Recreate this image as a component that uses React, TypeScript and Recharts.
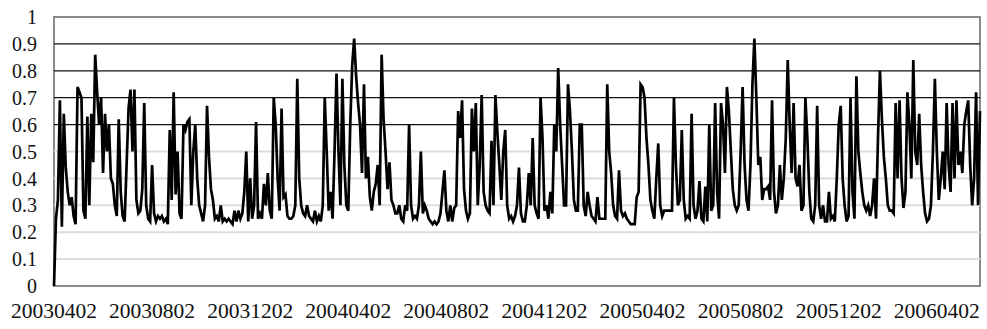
import React from 'react';
import { LineChart, Line, XAxis, YAxis, ReferenceLine, ReferenceArea } from 'recharts';

// x-axis labels, one every 50 observations
const tickLabels = [
  '20030402', '20030802', '20031202', '20040402', '20040802',
  '20041202', '20050402', '20050802', '20051202', '20060402',
];
const TICK_STEP = 50;

// values, split by stretch of the x-axis
const part1 = [
  0, 0.25, 0.32, 0.69, 0.22, 0.64, 0.44, 0.35, 0.3, 0.33,
  0.26, 0.23, 0.74, 0.72, 0.7, 0.28, 0.25, 0.63, 0.3, 0.64,
  0.46, 0.86, 0.72, 0.6, 0.7, 0.42, 0.64, 0.5, 0.6, 0.4,
  0.38, 0.3, 0.26, 0.62, 0.35, 0.26, 0.24, 0.45, 0.66, 0.73,
  0.5, 0.73, 0.32, 0.27, 0.28, 0.36, 0.68, 0.3, 0.25, 0.24,
  0.45, 0.27, 0.24, 0.26, 0.25, 0.26, 0.24, 0.25, 0.23, 0.58,
  0.32, 0.72, 0.34, 0.5, 0.27, 0.25, 0.6, 0.58, 0.61, 0.62,
  0.3, 0.5, 0.6, 0.4, 0.3, 0.27, 0.24, 0.3, 0.67, 0.48,
  0.36, 0.32, 0.25, 0.26, 0.24, 0.3, 0.24, 0.25, 0.24, 0.25,
  0.24, 0.23, 0.28, 0.24, 0.28,
];
const part2 = [
  0.25, 0.27, 0.35, 0.5, 0.24, 0.4, 0.25, 0.3, 0.61, 0.25,
  0.27, 0.25, 0.38, 0.3, 0.42, 0.28, 0.25, 0.7, 0.6, 0.4,
  0.28, 0.66, 0.33, 0.34, 0.26, 0.25, 0.25, 0.26, 0.3, 0.77,
  0.4, 0.3, 0.27, 0.26, 0.3, 0.26, 0.25, 0.24, 0.28, 0.24,
  0.26, 0.24, 0.3, 0.7, 0.5, 0.28, 0.35, 0.25, 0.5, 0.79,
  0.5, 0.3, 0.77, 0.45, 0.3, 0.28, 0.6, 0.82, 0.92, 0.78,
  0.68, 0.6, 0.42, 0.75, 0.4, 0.48, 0.33, 0.28, 0.35, 0.38,
  0.45, 0.3, 0.86, 0.62, 0.5, 0.36, 0.46, 0.32, 0.3, 0.27,
  0.27, 0.3, 0.25, 0.24, 0.3, 0.28, 0.6, 0.3, 0.25, 0.26,
  0.25, 0.3, 0.5, 0.27, 0.3,
];
const part3 = [
  0.28, 0.25, 0.24, 0.23, 0.24, 0.23, 0.24, 0.27, 0.35, 0.43,
  0.28, 0.24, 0.3, 0.24, 0.29, 0.3, 0.65, 0.55, 0.69, 0.36,
  0.28, 0.25, 0.27, 0.66, 0.5, 0.68, 0.3, 0.45, 0.71, 0.35,
  0.3, 0.28, 0.27, 0.54, 0.3, 0.71, 0.57, 0.45, 0.32, 0.5,
  0.58, 0.3, 0.25, 0.26, 0.24, 0.26, 0.3, 0.44, 0.27, 0.24,
  0.24, 0.3, 0.42, 0.3, 0.55, 0.3, 0.27, 0.25, 0.7, 0.55,
  0.28, 0.3, 0.25, 0.35, 0.27, 0.6, 0.5, 0.81, 0.6, 0.45,
  0.3, 0.3, 0.75, 0.65, 0.5, 0.32, 0.28, 0.28, 0.6, 0.6,
  0.3, 0.26, 0.35, 0.3, 0.26, 0.25, 0.24, 0.33, 0.25, 0.25,
  0.25, 0.25, 0.75, 0.5, 0.42,
];
const part4 = [
  0.3, 0.26, 0.25, 0.43, 0.28, 0.26, 0.27, 0.25, 0.24, 0.23,
  0.23, 0.23, 0.33, 0.35, 0.75, 0.74, 0.7, 0.55, 0.45, 0.32,
  0.28, 0.25, 0.4, 0.53, 0.3, 0.26, 0.28, 0.28, 0.28, 0.28,
  0.28, 0.7, 0.45, 0.3, 0.32, 0.58, 0.32, 0.25, 0.26, 0.25,
  0.64, 0.3, 0.25, 0.28, 0.39, 0.25, 0.24, 0.37, 0.24, 0.6,
  0.28, 0.3, 0.68, 0.35, 0.25, 0.68, 0.6, 0.42, 0.74, 0.65,
  0.5, 0.36, 0.3, 0.28, 0.3, 0.5, 0.74, 0.45, 0.32, 0.28,
  0.45, 0.75, 0.92, 0.7, 0.45, 0.48, 0.32, 0.36, 0.36, 0.37,
  0.32, 0.69, 0.35, 0.27, 0.3, 0.45, 0.32, 0.4, 0.55, 0.84,
  0.6, 0.42, 0.68, 0.4, 0.37,
];
const part5 = [
  0.45, 0.28, 0.3, 0.7, 0.55, 0.35, 0.25, 0.24, 0.3, 0.67,
  0.3, 0.25, 0.3, 0.24, 0.24, 0.35, 0.25, 0.26, 0.24, 0.4,
  0.6, 0.67, 0.4, 0.3, 0.24, 0.26, 0.7, 0.35, 0.25, 0.78,
  0.5, 0.42, 0.35, 0.3, 0.28, 0.3, 0.26, 0.3, 0.4, 0.25,
  0.55, 0.8, 0.62, 0.48, 0.4, 0.3, 0.28, 0.28, 0.27, 0.68,
  0.4, 0.69, 0.4, 0.29, 0.35, 0.72, 0.6, 0.4, 0.84, 0.5,
  0.45, 0.64, 0.45, 0.35, 0.27, 0.24, 0.25, 0.3, 0.5, 0.77,
  0.5, 0.32, 0.4, 0.5, 0.36, 0.68, 0.45, 0.35, 0.68, 0.4,
  0.69, 0.45, 0.5, 0.42, 0.6, 0.65, 0.69, 0.45, 0.3, 0.4,
  0.72, 0.3, 0.65,
];

const yTicks = [0, 0.1, 0.2, 0.3, 0.4, 0.5, 0.6, 0.7, 0.8, 0.9, 1];
const darkGrid = [0.6, 0.7, 0.8, 0.9];
const lightGrid = [0.1, 0.2, 0.3, 0.4, 0.5];

const values = [...part1, ...part2, ...part3, ...part4, ...part5];
const data = values.map((v, i) => ({ i, v }));
const lastIdx = values.length - 1;

const serif = '"Liberation Serif", "Times New Roman", serif';

export default function App() {
  return (
    <div style={{ position: 'absolute', left: 0, top: 0, background: '#fff' }}>
      <LineChart width={987} height={329} data={data} margin={{ top: 17, right: 7, bottom: 0, left: 0 }}>
        <XAxis
          type="number"
          dataKey="i"
          domain={[0, lastIdx]}
          ticks={tickLabels.map((_, k) => k * TICK_STEP)}
          tickFormatter={(v: number) => tickLabels[Math.round(v / TICK_STEP)]}
          interval={0}
          height={43}
          axisLine={false}
          tickLine={false}
          tickSize={0}
          tickMargin={17}
          tick={{ fontFamily: serif, fontSize: 21.5, fill: '#111' }}
        />
        <YAxis
          type="number"
          domain={[0, 1]}
          ticks={yTicks}
          interval={0}
          width={54}
          axisLine={false}
          tickLine={false}
          tickSize={0}
          tickMargin={17}
          tick={{ fontFamily: serif, fontSize: 20, fill: '#111' }}
        />
        {lightGrid.map((g) => (
          <ReferenceLine key={'l' + g} y={g} stroke="#dcdcdc" strokeWidth={2} />
        ))}
        {darkGrid.map((g) => (
          <ReferenceLine key={'d' + g} y={g} stroke="#111" strokeWidth={1.3} />
        ))}
        <ReferenceArea x1={0} x2={lastIdx} y1={0} y2={1} fill="none" stroke="#8a8a8a" strokeWidth={2} />
        <Line
          type="linear"
          dataKey="v"
          stroke="#000"
          strokeWidth={2.7}
          dot={false}
          isAnimationActive={false}
        />
      </LineChart>
    </div>
  );
}
